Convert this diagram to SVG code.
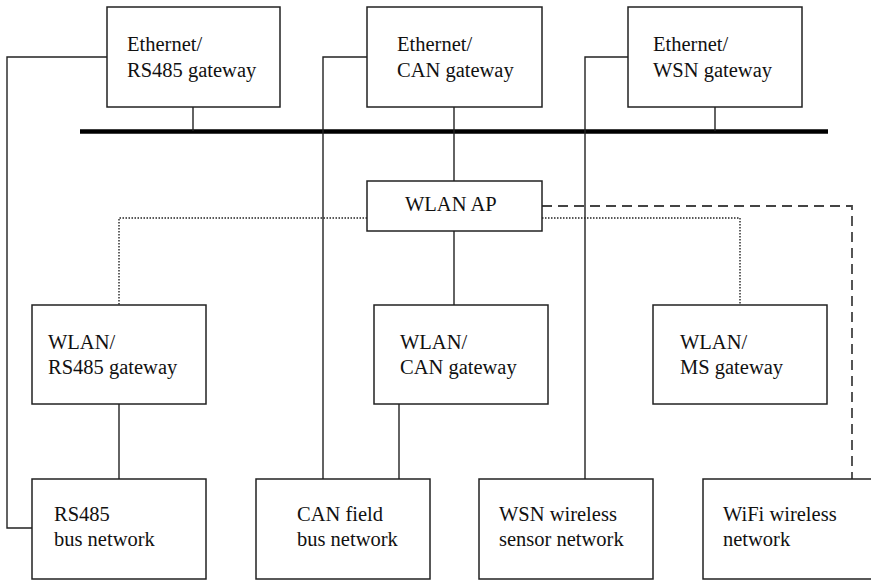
<svg xmlns="http://www.w3.org/2000/svg" width="871" height="580" viewBox="0 0 871 580">
  <style>
    .box { fill: #ffffff; stroke: #222222; stroke-width: 1.5; }
    .lbl { font-family: "Liberation Serif", "Times New Roman", serif; font-size: 20.5px; fill: #111111; }
    .wire { fill: none; stroke: #222222; stroke-width: 1.4; }
    .dot { fill: none; stroke: #222222; stroke-width: 1.4; stroke-dasharray: 1.5 1.5; }
    .dash { fill: none; stroke: #444444; stroke-width: 1.8; stroke-dasharray: 10 6; }
    .bus { fill: none; stroke: #000000; stroke-width: 4.5; }
  </style>

  <!-- connectors -->
  <g id="connectors">
    <line class="bus" x1="80" y1="131.5" x2="828" y2="131.5"/>
    <!-- gateway stubs to the Ethernet bus -->
    <line class="wire" x1="193" y1="107" x2="193" y2="131"/>
    <line class="wire" x1="454" y1="107" x2="454" y2="181"/>
    <line class="wire" x1="715" y1="107" x2="715" y2="131"/>
    <!-- Ethernet gateways down to their field networks -->
    <polyline class="wire" points="107,57 7,57 7,528 32,528"/>
    <polyline class="wire" points="367,57 323,57 323,479"/>
    <polyline class="wire" points="628,57 585,57 585,479"/>
    <!-- WLAN AP links -->
    <line class="wire" x1="454" y1="231" x2="454" y2="305"/>
    <polyline class="dot" points="367,218 119,218 119,305"/>
    <polyline class="dot" points="542,218 740,218 740,305"/>
    <polyline class="dash" points="542,206 852,206 852,479"/>
    <!-- WLAN gateways down to field networks -->
    <line class="wire" x1="119" y1="404" x2="119" y2="479"/>
    <line class="wire" x1="399" y1="404" x2="399" y2="479"/>
  </g>

  <g id="eth-rs485">
    <rect class="box" x="107" y="7" width="173" height="100"/>
    <text class="lbl" x="127" y="50.5">Ethernet/</text>
    <text class="lbl" x="127" y="76.5">RS485 gateway</text>
  </g>
  <g id="eth-can">
    <rect class="box" x="367" y="7" width="175" height="100"/>
    <text class="lbl" x="397" y="50.5">Ethernet/</text>
    <text class="lbl" x="397" y="76.5">CAN gateway</text>
  </g>
  <g id="eth-wsn">
    <rect class="box" x="628" y="7" width="174" height="100"/>
    <text class="lbl" x="653" y="50.5">Ethernet/</text>
    <text class="lbl" x="653" y="76.5">WSN gateway</text>
  </g>

  <g id="wlan-ap">
    <rect class="box" x="367" y="181" width="175" height="50"/>
    <text class="lbl" x="405" y="211">WLAN AP</text>
  </g>

  <g id="wlan-rs485">
    <rect class="box" x="32" y="305" width="174" height="99"/>
    <text class="lbl" x="48" y="349">WLAN/</text>
    <text class="lbl" x="48" y="374">RS485 gateway</text>
  </g>
  <g id="wlan-can">
    <rect class="box" x="374" y="305" width="174" height="99"/>
    <text class="lbl" x="400" y="349">WLAN/</text>
    <text class="lbl" x="400" y="374">CAN gateway</text>
  </g>
  <g id="wlan-ms">
    <rect class="box" x="653" y="305" width="174" height="99"/>
    <text class="lbl" x="680" y="349">WLAN/</text>
    <text class="lbl" x="680" y="374">MS gateway</text>
  </g>

  <g id="rs485-net">
    <rect class="box" x="32" y="479" width="174" height="100"/>
    <text class="lbl" x="54" y="521">RS485</text>
    <text class="lbl" x="54" y="546">bus network</text>
  </g>
  <g id="can-net">
    <rect class="box" x="256" y="479" width="174" height="100"/>
    <text class="lbl" x="297" y="521">CAN field</text>
    <text class="lbl" x="297" y="546">bus network</text>
  </g>
  <g id="wsn-net">
    <rect class="box" x="479" y="479" width="174" height="100"/>
    <text class="lbl" x="499" y="521">WSN wireless</text>
    <text class="lbl" x="499" y="546">sensor network</text>
  </g>
  <g id="wifi-net">
    <rect class="box" x="703" y="479" width="175" height="100"/>
    <text class="lbl" x="723" y="521">WiFi wireless</text>
    <text class="lbl" x="723" y="546">network</text>
  </g>
</svg>
